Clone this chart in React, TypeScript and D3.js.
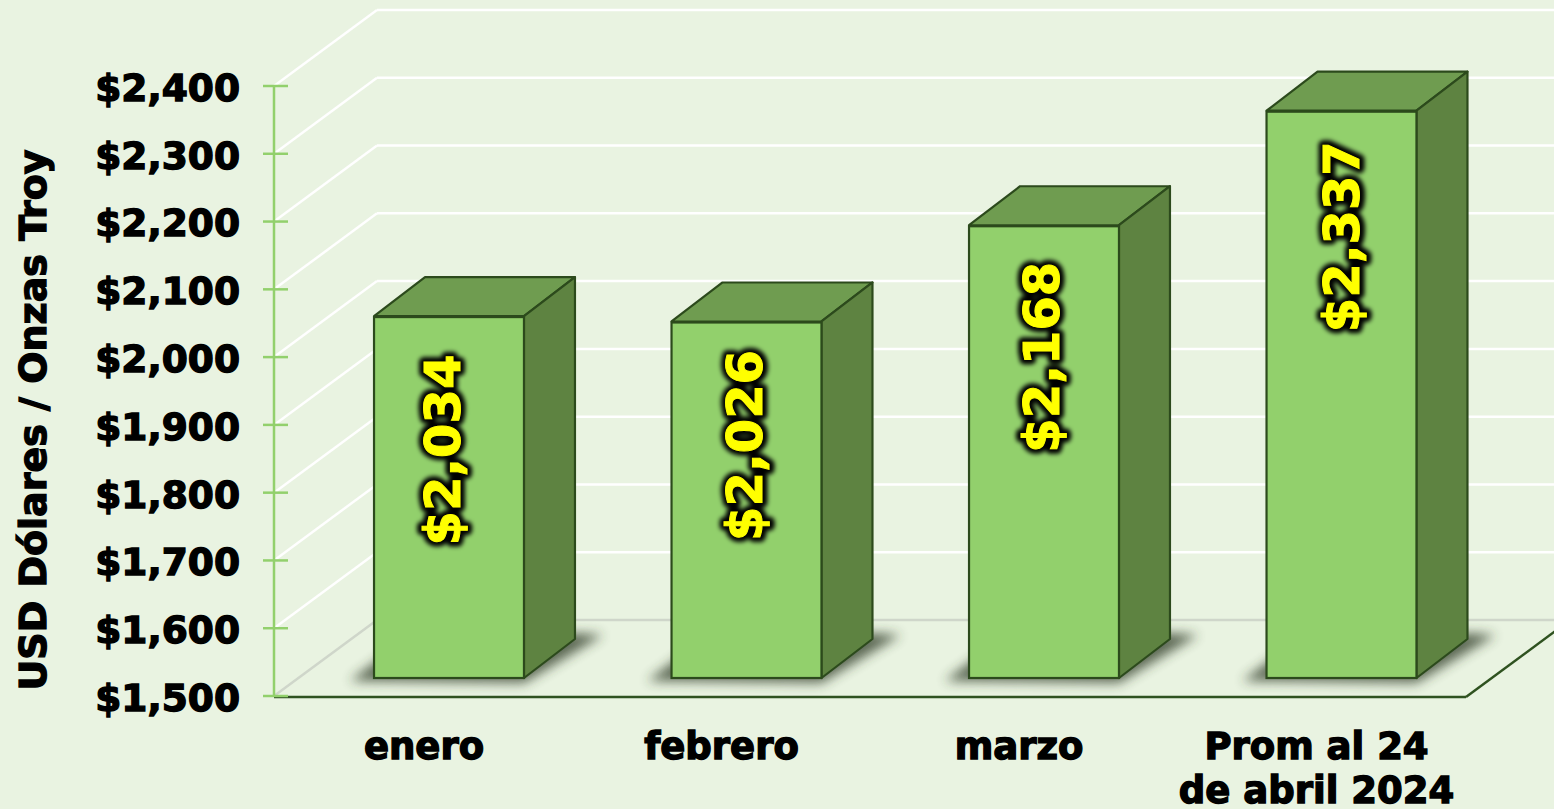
import React from "react";
import * as d3 from "d3";

const categories = ["enero", "febrero", "marzo", "Prom al 24|de abril 2024"];
const values = [2034, 2026, 2168, 2337];
const valueLabels = ["$2,034", "$2,026", "$2,168", "$2,337"];
const ticks = [1500, 1600, 1700, 1800, 1900, 2000, 2100, 2200, 2300, 2400];
const axisTitle = "USD Dólares / Onzas Troy";

const W = 1554, H = 809;
const wallDX = 103, wallDY = -76;
const barDX = 51, barDY = -39;
const baseLift = 18;
const catShift = -25;
const labelShift: [number, number][] = [[-7, 134], [-2, 124], [-3, 132], [0, 126]];

const y = d3.scaleLinear().domain([1500, 2400]).range([696, 86]);
const x = d3.scaleBand<string>().domain(categories).range([300.25, 1490.25]).paddingInner(0.496).paddingOuter(0.248);
const fmt = d3.format("$,");
const font = "'DejaVu Sans', Verdana, sans-serif";
const poly = (p: [number, number][]) => (d3.line()(p) as string) + "Z";

export default function App() {
  const x0 = 274, xEnd = 1466;
  const bw = x.bandwidth();
  const yBase = y(1500) - baseLift;
  return (
    <svg width={W} height={H} viewBox={`0 0 ${W} ${H}`} style={{ position: "absolute", left: 0, top: 0, display: "block", background: "#E9F3E1" }}>
      <defs>
        <filter id="sh" x="-30%" y="-50%" width="160%" height="200%"><feGaussianBlur stdDeviation="6" /></filter>
        <filter id="halo" x="-30%" y="-30%" width="160%" height="160%"><feGaussianBlur stdDeviation="2" /></filter>
      </defs>
      {ticks.map((t) => (
        <g key={t}>
          <line x1={x0} y1={y(t)} x2={x0 + wallDX} y2={y(t) + wallDY} stroke={t === 1500 ? "#CFD6CA" : "#FFFFFF"} strokeWidth={2.5} />
          <line x1={x0 + wallDX} y1={y(t) + wallDY} x2={W} y2={y(t) + wallDY} stroke={t === 1500 ? "#CFD6CA" : "#FFFFFF"} strokeWidth={2.5} />
        </g>
      ))}
      <path d={d3.line()([[xEnd, y(1500) + 1], [xEnd + wallDX, y(1500) + 1 + wallDY]]) as string} stroke="#2F5220" strokeWidth={2.5} fill="none" />
      <line x1={x0} y1={y(1500) + 1} x2={xEnd} y2={y(1500) + 1} stroke="#2F5220" strokeWidth={2.5} />
      <line x1={x0} y1={y(2400)} x2={x0} y2={y(1500)} stroke="#92D06C" strokeWidth={2.5} />
      {ticks.map((t) => (
        <line key={t} x1={263} y1={y(t)} x2={288} y2={y(t)} stroke="#92D06C" strokeWidth={2.5} />
      ))}
      {ticks.map((t) => (
        <text key={t} x={240} y={y(t) + 1} dy="0.37em" textAnchor="end" fontFamily={font} fontWeight={700} fontSize={37.5} fill="#000" stroke="#000" strokeWidth={1.4}>{fmt(t)}</text>
      ))}
      <text transform="translate(46,420) rotate(-90)" textAnchor="middle" fontFamily={font} fontWeight={700} fontSize={38} fill="#000" stroke="#000" strokeWidth={1.3}>{axisTitle}</text>
      {categories.map((c, i) => {
        const bx = x(c) as number;
        const top = y(values[i]) - baseLift;
        const right = bx + bw;
        return (
          <g key={c}>
            <path d={poly([[bx - 24, yBase + 3], [right, yBase + 5], [right + barDX + 28, yBase - 43], [right + barDX, yBase - 45], [bx + 20, yBase - 30]])} fill="#2E3A28" opacity={0.75} filter="url(#sh)" />
            <path d={poly([[bx, top], [bx + barDX, top + barDY], [right + barDX, top + barDY], [right, top]])} fill="#6F9C50" stroke="#2C4A1C" strokeWidth={2.2} strokeLinejoin="round" />
            <path d={poly([[right, top], [right + barDX, top + barDY], [right + barDX, yBase + barDY], [right, yBase]])} fill="#5E8341" stroke="#2C4A1C" strokeWidth={2.2} strokeLinejoin="round" />
            <rect x={bx} y={top + 1} width={bw} height={yBase - top - 1} fill="#92D06C" stroke="#2C4A1C" strokeWidth={2.2} />
          </g>
        );
      })}
      {categories.map((c, i) => {
        const cx = (x(c) as number) + bw / 2 + labelShift[i][0];
        const cy = y(values[i]) - baseLift + labelShift[i][1];
        const common = { textAnchor: "middle" as const, fontFamily: font, fontWeight: 700, fontSize: 49.5 };
        return (
          <g key={c} transform={`translate(${cx},${cy}) rotate(-90)`}>
            <text {...common} dy="0.36em" fill="#000" stroke="#000" strokeWidth={10} strokeLinejoin="round" filter="url(#halo)">{valueLabels[i]}</text>
            <text {...common} dy="0.36em" fill="#FFFF00" stroke="#FFFF00" strokeWidth={1}>{valueLabels[i]}</text>
          </g>
        );
      })}
      {categories.map((c) => (
        <text key={c} textAnchor="middle" fontFamily={font} fontWeight={700} fontSize={37} fill="#000" stroke="#000" strokeWidth={1.4}>
          {c.split("|").map((s, j) => (
            <tspan key={j} x={(x(c) as number) + bw / 2 + catShift} y={759 + j * 44}>{s}</tspan>
          ))}
        </text>
      ))}
    </svg>
  );
}
